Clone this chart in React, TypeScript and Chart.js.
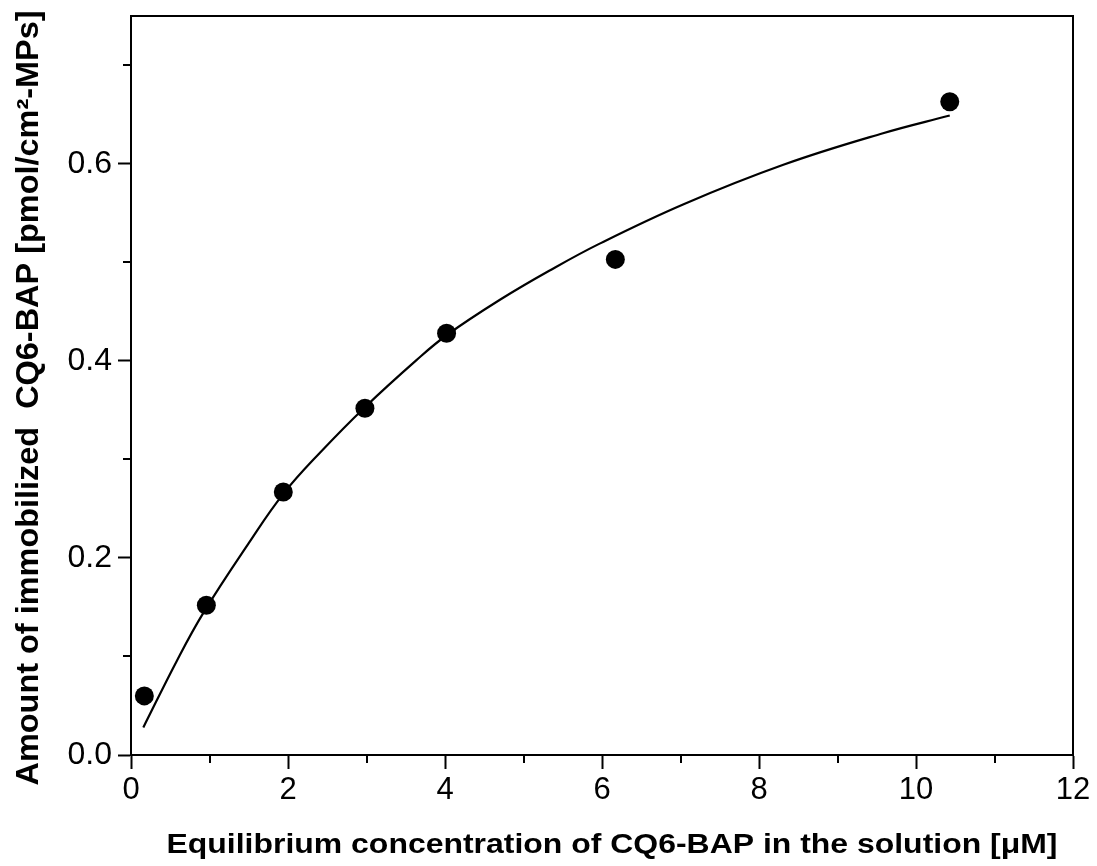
import React, { useEffect, useRef } from "react";
import { Chart, registerables } from "chart.js";

Chart.register(...registerables);

// Measured data points
const pointX = [0.17, 0.96, 1.94, 2.98, 4.02, 6.17, 10.43];
const pointY = [0.06, 0.152, 0.267, 0.352, 0.428, 0.503, 0.663];

// Fitted curve
const curveX = [0.157, 0.58, 0.92, 1.5, 1.94, 2.41, 2.98, 3.64, 4.02, 4.7, 5.34, 5.97, 7.04, 8.31, 9.58, 10.43];
const curveY = [0.028, 0.095, 0.144, 0.215, 0.265, 0.307, 0.353, 0.401, 0.426, 0.462, 0.492, 0.519, 0.559, 0.599, 0.631, 0.649];

const xMajorTicks = [0, 2, 4, 6, 8, 10, 12];
const xMinorTicks = [1, 3, 5, 7, 9, 11];
const yMajorTicks = [0, 0.2, 0.4, 0.6];
const yMinorTicks = [0.1, 0.3, 0.5, 0.7];

const xTitle = "Equilibrium concentration of CQ6-BAP in the solution [\u03bcM]";
const yTitle = "Amount of immobilized  CQ6-BAP [pmol/cm\u00b2-MPs]";

const FONT = "'Liberation Sans', Arial, sans-serif";

function drawStretchedText(ctx: any, text: string, cx: number, cy: number, font: string, targetWidth: number, rotate: boolean) {
  ctx.save();
  ctx.font = font;
  ctx.textAlign = "center";
  ctx.textBaseline = "middle";
  ctx.fillStyle = "#000";
  const w = ctx.measureText(text).width;
  const sx = targetWidth / w;
  ctx.translate(cx, cy);
  if (rotate) ctx.rotate(-Math.PI / 2);
  ctx.scale(sx, 1);
  ctx.fillText(text, 0, 0);
  ctx.restore();
}

const framePlugin = {
  id: "frameAndMinor",
  afterDraw(chart: any) {
    const { ctx, chartArea, scales } = chart;
    ctx.save();
    ctx.strokeStyle = "#000";
    ctx.lineWidth = 2;
    ctx.beginPath();
    ctx.moveTo(chartArea.left, chartArea.top);
    ctx.lineTo(chartArea.right, chartArea.top);
    ctx.lineTo(chartArea.right, chartArea.bottom);
    ctx.stroke();
    const len = 8;
    ctx.beginPath();
    xMinorTicks.forEach((v) => {
      const px = Math.round(scales.x.getPixelForValue(v));
      ctx.moveTo(px, chartArea.bottom);
      ctx.lineTo(px, chartArea.bottom + len);
    });
    yMinorTicks.forEach((v) => {
      const py = Math.round(scales.y.getPixelForValue(v));
      ctx.moveTo(chartArea.left, py);
      ctx.lineTo(chartArea.left - len, py);
    });
    ctx.stroke();
    ctx.restore();

    // axis titles
    drawStretchedText(ctx, xTitle, 612, 845, `bold 28px ${FONT}`, 891, false);
    drawStretchedText(ctx, yTitle, 29, 398, `bold 31px ${FONT}`, 775, true);
  },
};

export default function App() {
  const ref = useRef<HTMLCanvasElement>(null);
  useEffect(() => {
    if (!ref.current) return;
    const chart = new Chart(ref.current, {
      type: "scatter",
      data: {
        datasets: [
          {
            label: "fit",
            data: curveX.map((x, i) => ({ x, y: curveY[i] })),
            showLine: true,
            borderColor: "#000",
            borderWidth: 2.2,
            pointRadius: 0,
            tension: 0.4,
          },
          {
            label: "data",
            data: pointX.map((x, i) => ({ x, y: pointY[i] })),
            showLine: false,
            pointRadius: 9.5,
            backgroundColor: "#000",
            borderColor: "#000",
            borderWidth: 0,
          },
        ],
      },
      options: {
        responsive: false,
        animation: false,
        layout: { padding: { left: 0, top: 16, right: 24, bottom: 0 } },
        plugins: { legend: { display: false }, tooltip: { enabled: false } },
        scales: {
          x: {
            type: "linear",
            min: 0,
            max: 12,
            afterFit(scale: any) {
              scale.height = 111;
              scale.paddingLeft = 0;
              scale.paddingRight = 0;
            },
            afterBuildTicks(scale: any) {
              scale.ticks = xMajorTicks.map((v) => ({ value: v }));
            },
            ticks: {
              color: "#000",
              font: { family: FONT, size: 31 },
              padding: 3,
              maxRotation: 0,
              callback: (v: any) => String(v),
            },
            grid: {
              drawOnChartArea: false,
              drawTicks: true,
              tickLength: 14,
              tickWidth: 2,
              tickColor: "#000",
            },
            border: { display: true, color: "#000", width: 2 },
            title: { display: false },
          },
          y: {
            type: "linear",
            min: 0,
            max: 0.75,
            afterFit(scale: any) {
              scale.width = 131;
              scale.paddingTop = 0;
              scale.paddingBottom = 0;
            },
            afterBuildTicks(scale: any) {
              scale.ticks = yMajorTicks.map((v) => ({ value: v }));
            },
            ticks: {
              color: "#000",
              font: { family: FONT, size: 32 },
              padding: 6,
              callback: (v: any) => Number(v).toFixed(1),
            },
            grid: {
              drawOnChartArea: false,
              drawTicks: true,
              tickLength: 13,
              tickWidth: 2,
              tickColor: "#000",
            },
            border: { display: true, color: "#000", width: 2 },
            title: { display: false },
          },
        },
      },
      plugins: [framePlugin],
    } as any);
    return () => chart.destroy();
  }, []);
  return (
    <div style={{ position: "absolute", left: 0, top: 0, width: 1097, height: 866, background: "#fff" }}>
      <canvas ref={ref} width={1097} height={866} style={{ display: "block" }} />
    </div>
  );
}
